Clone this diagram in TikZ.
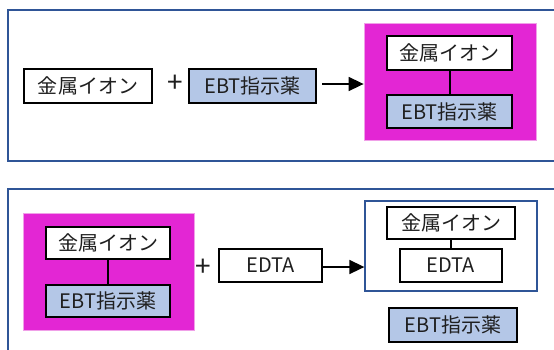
\documentclass[tikz,border=0pt]{standalone}
\usepackage{fontspec}
\setmainfont{Noto Sans CJK JP}
\usetikzlibrary{arrows.meta}
\definecolor{frameblue}{RGB}{47,85,151}
\definecolor{mag}{RGB}{227,38,212}
\definecolor{magedge}{RGB}{240,160,232}
\definecolor{ebtblue}{RGB}{180,199,231}
\tikzset{
  box/.style={draw=black,line width=1.3bp,inner sep=0pt,font=\fontsize{20bp}{22bp}\selectfont,text=black!88},
  wbox/.style={box,fill=white},
  bbox/.style={box,fill=ebtblue},
  magbox/.style={draw=magedge,line width=0.8bp,fill=mag,inner sep=0pt},
  outbox/.style={draw=frameblue,line width=1.3bp,fill=white,inner sep=0pt},
  frame/.style={draw=frameblue,line width=2bp},
  bond/.style={draw=black,line width=2bp},
  arr/.style={draw=black,line width=1.6bp,-{Triangle[length=15bp,width=14bp]}},
  plus/.style={inner sep=0pt,font=\fontsize{28bp}{30bp}\selectfont,text=black!88}
}
\begin{document}
\begin{tikzpicture}[x=1bp,y=-1bp]
\useasboundingbox (0,0) rectangle (554,349);
% frames
\coordinate (f1a) at (554,10);
\coordinate (f1b) at (7.5,10);
\coordinate (f1c) at (7.5,160.5);
\coordinate (f1d) at (554,160.5);
\draw[frame] (f1a) -- (f1b) -- (f1c) -- (f1d);
\coordinate (f2a) at (554,189);
\coordinate (f2b) at (7.5,189);
\coordinate (f2c) at (7.5,352);
\draw[frame] (f2a) -- (f2b) -- (f2c);

% top panel
\node[wbox,minimum width=128bp,minimum height=34bp] (m1) at (88,86) {金属イオン};
\node[plus] (p1) at (175,84) {+};
\node[bbox,minimum width=127bp,minimum height=34bp] (e1) at (252.5,86) {EBT指示薬};
\node[magbox,minimum width=172bp,minimum height=117bp] (mag1) at (450,81.5) {};
\node[wbox,minimum width=125bp,minimum height=34bp] (im1) at (449.5,53) {金属イオン};
\node[bbox,minimum width=125bp,minimum height=33bp] (ie1) at (449.5,111.5) {EBT指示薬};
\draw[bond] (im1.south) -- (ie1.north);
\coordinate (a1s) at (322,84);
\draw[arr] (a1s) -- (a1s -| mag1.west);

% bottom panel
\node[magbox,minimum width=171bp,minimum height=117bp] (mag2) at (108.5,271.5) {};
\node[wbox,minimum width=124bp,minimum height=32bp] (im2) at (108,243) {金属イオン};
\node[bbox,minimum width=124bp,minimum height=32bp] (ie2) at (108,301) {EBT指示薬};
\draw[bond] (im2.south) -- (ie2.north);
\node[plus] (p2) at (203,268) {+};
\node[wbox,minimum width=103bp,minimum height=33bp] (ed) at (270.5,265.5) {EDTA};
\node[outbox,minimum width=172bp,minimum height=90bp] (wb) at (451,246) {};
\node[wbox,minimum width=128bp,minimum height=32bp] (im3) at (451,223) {金属イオン};
\node[wbox,minimum width=102bp,minimum height=33bp] (ie3) at (451,265.5) {EDTA};
\draw[bond] (im3.south) -- (ie3.north);
\coordinate (a2s) at (322,267);
\draw[arr] (a2s) -- (a2s -| wb.west);
\node[bbox,minimum width=128bp,minimum height=34bp] (eb3) at (453,325) {EBT指示薬};
\end{tikzpicture}
\end{document}
